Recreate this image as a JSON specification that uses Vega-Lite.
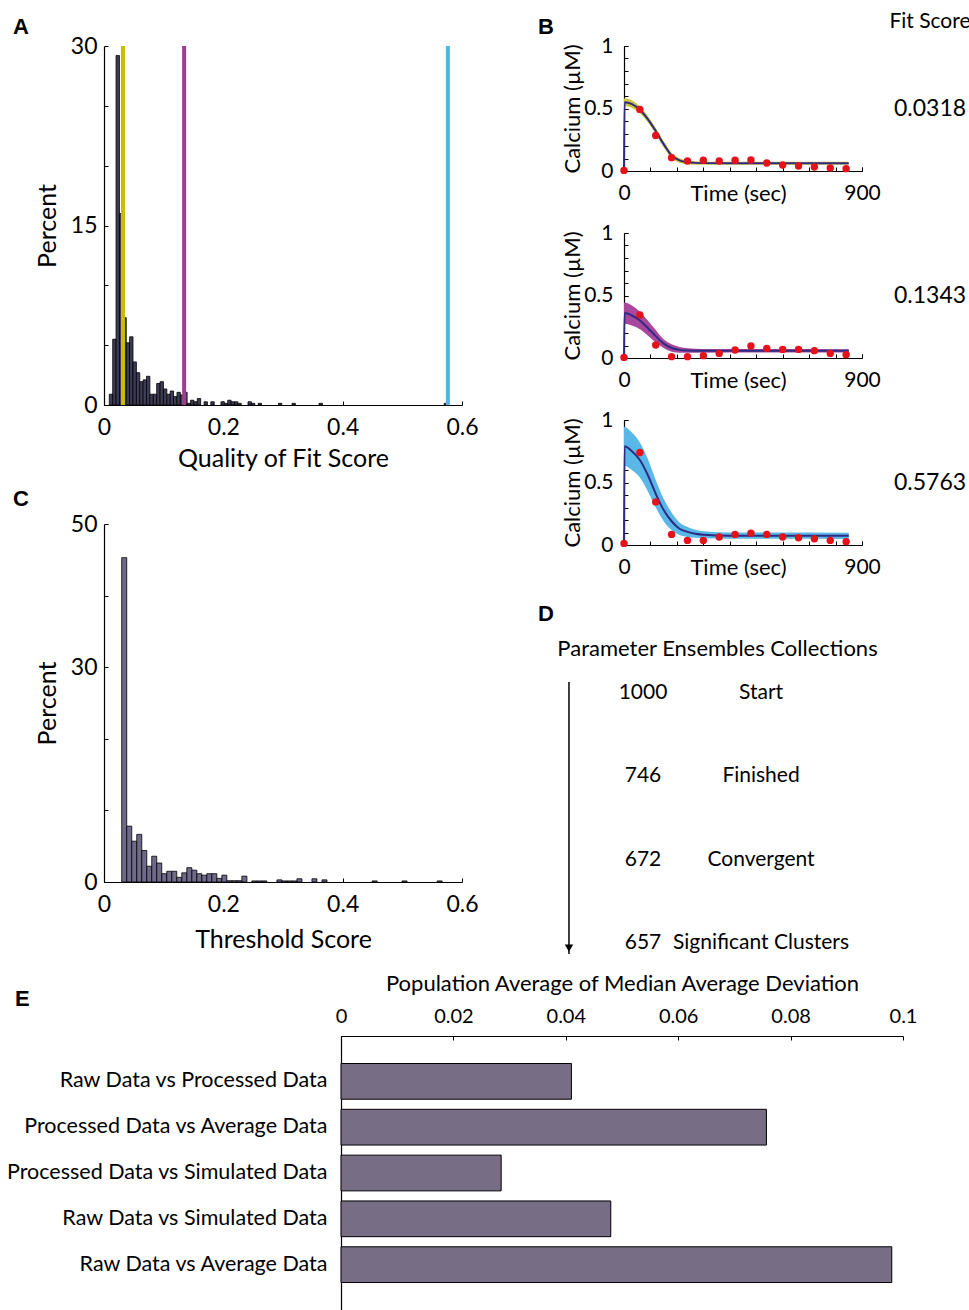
{
  "$schema": "https://vega.github.io/schema/vega-lite/v6.json",
  "padding": {"left": 4, "top": 11, "right": 0, "bottom": 0},
  "background": "white",
  "config": {
    "view": {"stroke": null},
    "font": "Lato",
    "title": {"font": "Liberation Sans", "fontSize": 22, "fontWeight": "bold", "color": "#000", "frame": "group"},
    "axis": {"labelFont": "Lato", "titleFont": "Lato", "labelFontSize": 23, "titleFontSize": 25, "titleFontWeight": "normal", "labelColor": "#000", "titleColor": "#000", "domainColor": "#000", "tickColor": "#000", "tickSize": -4, "labelPadding": 15, "grid": false, "domainWidth": 1.2, "tickWidth": 1, "labelFlush": false, "labelOverlap": false, "labelLimit": 500}
  },
  "datasets": {
    "histA": [
      {"lo": 0.0089, "hi": 0.0146, "pct": 0.9}, {"lo": 0.0146, "hi": 0.0202, "pct": 5.5}, {"lo": 0.0202, "hi": 0.0259, "pct": 29.2}, {"lo": 0.0259, "hi": 0.0316, "pct": 16.0}, {"lo": 0.0316, "hi": 0.0373, "pct": 7.3}, {"lo": 0.0373, "hi": 0.0429, "pct": 5.2}, {"lo": 0.0429, "hi": 0.0486, "pct": 5.7}, {"lo": 0.0486, "hi": 0.0543, "pct": 3.6}, {"lo": 0.0543, "hi": 0.0599, "pct": 2.7}, {"lo": 0.0599, "hi": 0.0656, "pct": 1.95}, {"lo": 0.0656, "hi": 0.0713, "pct": 2.1}, {"lo": 0.0713, "hi": 0.0769, "pct": 2.4}, {"lo": 0.0769, "hi": 0.0826, "pct": 0.9}, {"lo": 0.0826, "hi": 0.0883, "pct": 0.9}, {"lo": 0.0883, "hi": 0.094, "pct": 1.8}, {"lo": 0.094, "hi": 0.0996, "pct": 1.95}, {"lo": 0.0996, "hi": 0.1053, "pct": 1.34}, {"lo": 0.1053, "hi": 0.111, "pct": 0.9}, {"lo": 0.111, "hi": 0.1166, "pct": 1.17}, {"lo": 0.1166, "hi": 0.1223, "pct": 0.7}, {"lo": 0.1223, "hi": 0.128, "pct": 1.06}, {"lo": 0.128, "hi": 0.1336, "pct": 0.84}, {"lo": 0.1336, "hi": 0.1393, "pct": 1.06}, {"lo": 0.1393, "hi": 0.145, "pct": 0.14}, {"lo": 0.145, "hi": 0.1507, "pct": 0.4}, {"lo": 0.1507, "hi": 0.1563, "pct": 0.27}, {"lo": 0.1563, "hi": 0.162, "pct": 0.54}, {"lo": 0.1677, "hi": 0.1733, "pct": 0.27}, {"lo": 0.179, "hi": 0.1847, "pct": 0.27}, {"lo": 0.196, "hi": 0.2017, "pct": 0.27}, {"lo": 0.2017, "hi": 0.2073, "pct": 0.14}, {"lo": 0.2073, "hi": 0.213, "pct": 0.4}, {"lo": 0.213, "hi": 0.2187, "pct": 0.27}, {"lo": 0.2187, "hi": 0.2243, "pct": 0.27}, {"lo": 0.2243, "hi": 0.23, "pct": 0.14}, {"lo": 0.2413, "hi": 0.247, "pct": 0.27}, {"lo": 0.247, "hi": 0.2527, "pct": 0.14}, {"lo": 0.2584, "hi": 0.264, "pct": 0.14}, {"lo": 0.2924, "hi": 0.298, "pct": 0.14}, {"lo": 0.3151, "hi": 0.3207, "pct": 0.14}, {"lo": 0.3604, "hi": 0.3661, "pct": 0.14}, {"lo": 0.5702, "hi": 0.5759, "pct": 0.14}
    ],
    "histC": [
      {"lo": 0.0297, "hi": 0.0381, "pct": 45.3}, {"lo": 0.0381, "hi": 0.0465, "pct": 7.8}, {"lo": 0.0465, "hi": 0.0549, "pct": 5.7}, {"lo": 0.0549, "hi": 0.0633, "pct": 6.65}, {"lo": 0.0633, "hi": 0.0717, "pct": 4.4}, {"lo": 0.0717, "hi": 0.08, "pct": 2.2}, {"lo": 0.08, "hi": 0.0884, "pct": 3.6}, {"lo": 0.0884, "hi": 0.0968, "pct": 2.65}, {"lo": 0.0968, "hi": 0.1052, "pct": 1.16}, {"lo": 0.1052, "hi": 0.1136, "pct": 1.5}, {"lo": 0.1136, "hi": 0.122, "pct": 1.5}, {"lo": 0.122, "hi": 0.1304, "pct": 0.65}, {"lo": 0.1304, "hi": 0.1388, "pct": 1.28}, {"lo": 0.1388, "hi": 0.1472, "pct": 2.0}, {"lo": 0.1472, "hi": 0.1556, "pct": 1.65}, {"lo": 0.1556, "hi": 0.1639, "pct": 1.16}, {"lo": 0.1639, "hi": 0.1723, "pct": 0.95}, {"lo": 0.1723, "hi": 0.1807, "pct": 1.16}, {"lo": 0.1807, "hi": 0.1891, "pct": 1.16}, {"lo": 0.1891, "hi": 0.1975, "pct": 0.5}, {"lo": 0.1975, "hi": 0.2059, "pct": 0.95}, {"lo": 0.2059, "hi": 0.2143, "pct": 0.18}, {"lo": 0.2143, "hi": 0.2227, "pct": 0.18}, {"lo": 0.2227, "hi": 0.2311, "pct": 0.18}, {"lo": 0.2311, "hi": 0.2395, "pct": 0.82}, {"lo": 0.2478, "hi": 0.2562, "pct": 0.15}, {"lo": 0.2562, "hi": 0.2646, "pct": 0.15}, {"lo": 0.2646, "hi": 0.273, "pct": 0.15}, {"lo": 0.2898, "hi": 0.2982, "pct": 0.3}, {"lo": 0.2982, "hi": 0.3066, "pct": 0.15}, {"lo": 0.3066, "hi": 0.315, "pct": 0.15}, {"lo": 0.315, "hi": 0.3234, "pct": 0.15}, {"lo": 0.3234, "hi": 0.3318, "pct": 0.45}, {"lo": 0.3485, "hi": 0.3569, "pct": 0.45}, {"lo": 0.3653, "hi": 0.3737, "pct": 0.3}, {"lo": 0.4493, "hi": 0.4577, "pct": 0.15}, {"lo": 0.4995, "hi": 0.5079, "pct": 0.15}, {"lo": 0.5583, "hi": 0.5667, "pct": 0.15}
    ],
    "fitlines": [
      {"example": "Fit 1", "score": 0.0318}, {"example": "Fit 2", "score": 0.1343}, {"example": "Fit 3", "score": 0.5763}
    ],
    "fit1": [
      {"t": 0, "y": 0, "lo": 0.52, "hi": 0.58}, {"t": 2, "y": 0.55, "lo": 0.52, "hi": 0.58}, {"t": 30, "y": 0.535, "lo": 0.505, "hi": 0.565}, {"t": 60, "y": 0.49, "lo": 0.462, "hi": 0.518}, {"t": 90, "y": 0.415, "lo": 0.39, "hi": 0.44}, {"t": 120, "y": 0.32, "lo": 0.295, "hi": 0.345}, {"t": 150, "y": 0.215, "lo": 0.19, "hi": 0.24}, {"t": 180, "y": 0.125, "lo": 0.103, "hi": 0.147}, {"t": 210, "y": 0.085, "lo": 0.067, "hi": 0.103}, {"t": 240, "y": 0.07, "lo": 0.055, "hi": 0.085}, {"t": 270, "y": 0.065, "lo": 0.051, "hi": 0.079}, {"t": 300, "y": 0.063, "lo": 0.05, "hi": 0.076}, {"t": 400, "y": 0.062, "lo": 0.05, "hi": 0.074}, {"t": 600, "y": 0.062, "lo": 0.05, "hi": 0.074}, {"t": 850, "y": 0.062, "lo": 0.05, "hi": 0.074}
    ],
    "obs1": [
      {"t": 0, "v": 0.005}, {"t": 60, "v": 0.493}, {"t": 120, "v": 0.284}, {"t": 180, "v": 0.107}, {"t": 240, "v": 0.08}, {"t": 300, "v": 0.086}, {"t": 360, "v": 0.08}, {"t": 420, "v": 0.086}, {"t": 480, "v": 0.088}, {"t": 540, "v": 0.064}, {"t": 600, "v": 0.048}, {"t": 660, "v": 0.04}, {"t": 720, "v": 0.032}, {"t": 780, "v": 0.024}, {"t": 840, "v": 0.019}
    ],
    "fit2": [
      {"t": 0, "y": 0, "lo": 0.275, "hi": 0.445}, {"t": 2, "y": 0.36, "lo": 0.275, "hi": 0.445}, {"t": 30, "y": 0.34, "lo": 0.26, "hi": 0.42}, {"t": 60, "y": 0.3, "lo": 0.23, "hi": 0.37}, {"t": 90, "y": 0.24, "lo": 0.18, "hi": 0.3}, {"t": 120, "y": 0.175, "lo": 0.125, "hi": 0.225}, {"t": 150, "y": 0.115, "lo": 0.08, "hi": 0.15}, {"t": 180, "y": 0.08, "lo": 0.05, "hi": 0.11}, {"t": 210, "y": 0.065, "lo": 0.042, "hi": 0.088}, {"t": 240, "y": 0.06, "lo": 0.042, "hi": 0.078}, {"t": 300, "y": 0.058, "lo": 0.043, "hi": 0.073}, {"t": 500, "y": 0.058, "lo": 0.044, "hi": 0.072}, {"t": 850, "y": 0.058, "lo": 0.045, "hi": 0.071}
    ],
    "obs2": [
      {"t": 0, "v": 0.005}, {"t": 60, "v": 0.344}, {"t": 120, "v": 0.104}, {"t": 180, "v": 0.011}, {"t": 240, "v": 0.011}, {"t": 300, "v": 0.019}, {"t": 360, "v": 0.037}, {"t": 420, "v": 0.064}, {"t": 480, "v": 0.096}, {"t": 540, "v": 0.077}, {"t": 600, "v": 0.069}, {"t": 660, "v": 0.069}, {"t": 720, "v": 0.059}, {"t": 780, "v": 0.037}, {"t": 840, "v": 0.027}
    ],
    "fit3": [
      {"t": 0, "y": 0, "lo": 0.635, "hi": 0.945}, {"t": 2, "y": 0.79, "lo": 0.635, "hi": 0.945}, {"t": 30, "y": 0.75, "lo": 0.6, "hi": 0.9}, {"t": 60, "y": 0.68, "lo": 0.54, "hi": 0.82}, {"t": 90, "y": 0.56, "lo": 0.43, "hi": 0.69}, {"t": 120, "y": 0.41, "lo": 0.3, "hi": 0.52}, {"t": 150, "y": 0.28, "lo": 0.19, "hi": 0.37}, {"t": 180, "y": 0.19, "lo": 0.12, "hi": 0.26}, {"t": 210, "y": 0.13, "lo": 0.08, "hi": 0.18}, {"t": 240, "y": 0.105, "lo": 0.065, "hi": 0.145}, {"t": 270, "y": 0.09, "lo": 0.058, "hi": 0.122}, {"t": 300, "y": 0.082, "lo": 0.054, "hi": 0.11}, {"t": 400, "y": 0.075, "lo": 0.05, "hi": 0.1}, {"t": 850, "y": 0.074, "lo": 0.049, "hi": 0.099}
    ],
    "obs3": [
      {"t": 0, "v": 0.013}, {"t": 60, "v": 0.74}, {"t": 120, "v": 0.345}, {"t": 180, "v": 0.085}, {"t": 240, "v": 0.037}, {"t": 300, "v": 0.037}, {"t": 360, "v": 0.064}, {"t": 420, "v": 0.085}, {"t": 480, "v": 0.095}, {"t": 540, "v": 0.085}, {"t": 600, "v": 0.064}, {"t": 660, "v": 0.058}, {"t": 720, "v": 0.05}, {"t": 780, "v": 0.037}, {"t": 840, "v": 0.027}
    ],
    "stages": [
      {"stage": "Start", "n": 1000}, {"stage": "Finished", "n": 746}, {"stage": "Convergent", "n": 672}, {"stage": "Significant Clusters", "n": 657}
    ],
    "devs": [
      {"comparison": "Raw Data vs Processed Data", "mad": 0.041}, {"comparison": "Processed Data vs Average Data", "mad": 0.0757}, {"comparison": "Processed Data vs Simulated Data", "mad": 0.0285}, {"comparison": "Raw Data vs Simulated Data", "mad": 0.048}, {"comparison": "Raw Data vs Average Data", "mad": 0.098}
    ]
  },
  "vconcat": [
    {
      "hconcat": [
        {"width": 1, "height": 1, "data": {"values": []}, "mark": "point"},
        {
          "hconcat": [
            {
              "vconcat": [
                {
                  "width": 358, "height": 359,
                  "title": {"text": "A", "anchor": "start", "dx": -91, "offset": -4},
                  "layer": [
                    {
                      "data": {"name": "histA"},
                      "mark": {"type": "bar", "fill": "#3e3b56", "stroke": "#000", "strokeWidth": 0.8},
                      "encoding": {
                        "x": {"field": "lo", "type": "quantitative", "scale": {"domain": [0, 0.6], "nice": false, "zero": false}, "axis": {"values": [0, 0.2, 0.4, 0.6], "format": "~g", "title": "Quality of Fit Score", "titleY": 53, "titleBaseline": "middle"}},
                        "x2": {"field": "hi"},
                        "y": {"field": "pct", "type": "quantitative", "scale": {"domain": [0, 30], "nice": false}, "axis": {"values": [0, 5, 10, 15, 20, 25, 30], "labelExpr": "datum.value % 15 === 0 ? datum.label : ''", "title": "Percent", "titleX": -57, "titleBaseline": "middle", "labelPadding": 11}},
                        "y2": {"datum": 0}
                      }
                    },
                    {
                      "data": {"name": "fitlines"},
                      "mark": {"type": "rule", "strokeWidth": 4},
                      "encoding": {
                        "x": {"field": "score", "type": "quantitative"},
                        "color": {"field": "example", "type": "nominal", "scale": {"domain": ["Fit 1", "Fit 2", "Fit 3"], "range": ["#c9bd00", "#a23c91", "#4fb4e6"]}, "legend": null}
                      }
                    }
                  ]
                },
                {
                  "width": 358, "height": 358,
                  "title": {"text": "C", "anchor": "start", "dx": -91, "offset": 2},
                  "data": {"name": "histC"},
                  "mark": {"type": "bar", "fill": "#6f698a", "stroke": "#000", "strokeWidth": 0.8},
                  "encoding": {
                    "x": {"field": "lo", "type": "quantitative", "scale": {"domain": [0, 0.6], "nice": false, "zero": false}, "axis": {"values": [0, 0.2, 0.4, 0.6], "format": "~g", "title": "Threshold Score", "titleY": 57, "titleBaseline": "middle"}},
                    "x2": {"field": "hi"},
                    "y": {"field": "pct", "type": "quantitative", "scale": {"domain": [0, 50], "nice": false}, "axis": {"values": [0, 10, 20, 30, 40, 50], "labelExpr": "datum.value === 0 || datum.value === 30 || datum.value === 50 ? datum.label : ''", "title": "Percent", "titleX": -57, "titleBaseline": "middle", "labelPadding": 11}},
                    "y2": {"datum": 0}
                  }
                }
              ],
              "spacing": 17
            },
            {
              "vconcat": [
                {
                  "hconcat": [
                    {
                      "width": 1, "height": 1,
                      "data": {"values": []},
                      "mark": "point",
                      "title": {"text": "B", "anchor": "start", "dx": -11, "offset": 7}
                    },
                    {
                      "vconcat": [
                        {
                          "width": 238, "height": 125,
                          "resolve": {"axis": {"x": "independent", "y": "independent"}},
                          "layer": [
                            {
                              "data": {"name": "fit1"},
                              "mark": {"type": "area", "color": "#cbc43c", "interpolate": "monotone"},
                              "encoding": {
                                "x": {"field": "t", "type": "quantitative", "scale": {"domain": [0, 900], "nice": false}, "axis": {"values": [0, 100, 200, 300, 400, 500, 600, 700, 800, 900], "labels": false, "title": null}},
                                "y": {"field": "lo", "type": "quantitative", "scale": {"domain": [0, 1], "nice": false}, "axis": {"values": [0, 0.1, 0.2, 0.3, 0.4, 0.5, 0.6, 0.7, 0.8, 0.9, 1], "labels": false, "title": null}},
                                "y2": {"field": "hi"}
                              }
                            },
                            {
                              "data": {"name": "fit1"},
                              "mark": {"type": "line", "color": "#2e2b85", "strokeWidth": 2, "interpolate": "monotone"},
                              "encoding": {
                                "x": {"field": "t", "type": "quantitative", "axis": {"orient": "bottom", "values": [0, 900], "domain": false, "title": "Time (sec)", "titleX": 114, "titleY": 22, "titleBaseline": "middle", "labelFontSize": 21, "titleFontSize": 22}},
                                "y": {"field": "y", "type": "quantitative", "axis": {"orient": "left", "values": [0, 0.5, 1], "format": "~g", "domain": false, "title": "Calcium (µM)", "titleX": -52, "titleBaseline": "middle", "labelFontSize": 21, "titleFontSize": 22}}
                              }
                            },
                            {
                              "data": {"name": "obs1"},
                              "mark": {"type": "circle", "color": "#e5121b", "size": 55, "opacity": 1},
                              "encoding": {"x": {"field": "t", "type": "quantitative", "axis": null}, "y": {"field": "v", "type": "quantitative", "axis": null}}
                            }
                          ]
                        },
                        {
                          "width": 238, "height": 125,
                          "resolve": {"axis": {"x": "independent", "y": "independent"}},
                          "layer": [
                            {
                              "data": {"name": "fit2"},
                              "mark": {"type": "area", "color": "#a8479b", "interpolate": "monotone"},
                              "encoding": {
                                "x": {"field": "t", "type": "quantitative", "scale": {"domain": [0, 900], "nice": false}, "axis": {"values": [0, 100, 200, 300, 400, 500, 600, 700, 800, 900], "labels": false, "title": null}},
                                "y": {"field": "lo", "type": "quantitative", "scale": {"domain": [0, 1], "nice": false}, "axis": {"values": [0, 0.1, 0.2, 0.3, 0.4, 0.5, 0.6, 0.7, 0.8, 0.9, 1], "labels": false, "title": null}},
                                "y2": {"field": "hi"}
                              }
                            },
                            {
                              "data": {"name": "fit2"},
                              "mark": {"type": "line", "color": "#2e2b85", "strokeWidth": 2, "interpolate": "monotone"},
                              "encoding": {
                                "x": {"field": "t", "type": "quantitative", "axis": {"orient": "bottom", "values": [0, 900], "domain": false, "title": "Time (sec)", "titleX": 114, "titleY": 22, "titleBaseline": "middle", "labelFontSize": 21, "titleFontSize": 22}},
                                "y": {"field": "y", "type": "quantitative", "axis": {"orient": "left", "values": [0, 0.5, 1], "format": "~g", "domain": false, "title": "Calcium (µM)", "titleX": -52, "titleBaseline": "middle", "labelFontSize": 21, "titleFontSize": 22}}
                              }
                            },
                            {
                              "data": {"name": "obs2"},
                              "mark": {"type": "circle", "color": "#e5121b", "size": 55, "opacity": 1},
                              "encoding": {"x": {"field": "t", "type": "quantitative", "axis": null}, "y": {"field": "v", "type": "quantitative", "axis": null}}
                            }
                          ]
                        },
                        {
                          "width": 238, "height": 125,
                          "resolve": {"axis": {"x": "independent", "y": "independent"}},
                          "layer": [
                            {
                              "data": {"name": "fit3"},
                              "mark": {"type": "area", "color": "#5ab8e8", "interpolate": "monotone"},
                              "encoding": {
                                "x": {"field": "t", "type": "quantitative", "scale": {"domain": [0, 900], "nice": false}, "axis": {"values": [0, 100, 200, 300, 400, 500, 600, 700, 800, 900], "labels": false, "title": null}},
                                "y": {"field": "lo", "type": "quantitative", "scale": {"domain": [0, 1], "nice": false}, "axis": {"values": [0, 0.1, 0.2, 0.3, 0.4, 0.5, 0.6, 0.7, 0.8, 0.9, 1], "labels": false, "title": null}},
                                "y2": {"field": "hi"}
                              }
                            },
                            {
                              "data": {"name": "fit3"},
                              "mark": {"type": "line", "color": "#2e2b85", "strokeWidth": 2, "interpolate": "monotone"},
                              "encoding": {
                                "x": {"field": "t", "type": "quantitative", "axis": {"orient": "bottom", "values": [0, 900], "domain": false, "title": "Time (sec)", "titleX": 114, "titleY": 22, "titleBaseline": "middle", "labelFontSize": 21, "titleFontSize": 22}},
                                "y": {"field": "y", "type": "quantitative", "axis": {"orient": "left", "values": [0, 0.5, 1], "format": "~g", "domain": false, "title": "Calcium (µM)", "titleX": -52, "titleBaseline": "middle", "labelFontSize": 21, "titleFontSize": 22}}
                              }
                            },
                            {
                              "data": {"name": "obs3"},
                              "mark": {"type": "circle", "color": "#e5121b", "size": 55, "opacity": 1},
                              "encoding": {"x": {"field": "t", "type": "quantitative", "axis": null}, "y": {"field": "v", "type": "quantitative", "axis": null}}
                            }
                          ]
                        }
                      ],
                      "spacing": 18
                    },
                    {
                      "vconcat": [
                        {
                          "width": 86, "height": 125,
                          "title": {"text": "Fit Score", "anchor": "middle", "offset": 14, "font": "Lato", "fontSize": 21, "fontWeight": "normal"},
                          "data": {"values": [{"score": 0.0318}]},
                          "mark": {"type": "text", "font": "Lato", "fontSize": 23, "color": "#000"},
                          "encoding": {"text": {"field": "score", "type": "quantitative", "format": ".4f"}}
                        },
                        {
                          "width": 86, "height": 125,
                          "data": {"values": [{"score": 0.1343}]},
                          "mark": {"type": "text", "font": "Lato", "fontSize": 23, "color": "#000"},
                          "encoding": {"text": {"field": "score", "type": "quantitative", "format": ".4f"}}
                        },
                        {
                          "width": 86, "height": 125,
                          "data": {"values": [{"score": 0.5763}]},
                          "mark": {"type": "text", "font": "Lato", "fontSize": 23, "color": "#000"},
                          "encoding": {"text": {"field": "score", "type": "quantitative", "format": ".4f"}}
                        }
                      ],
                      "spacing": 62
                    }
                  ],
                  "spacing": 6
                },
                {
                  "width": 232, "height": 272,
                  "title": {"text": "D", "anchor": "start", "dx": -11, "offset": 11},
                  "data": {"name": "stages"},
                  "layer": [
                    {
                      "data": {"values": [{"item": "arrow"}]},
                      "mark": {"type": "rule", "color": "#000", "strokeWidth": 1.5},
                      "encoding": {
                        "x": {"field": "item", "type": "nominal", "scale": {"type": "point", "domain": ["arrow", "count", "stage"], "padding": 0.208}, "axis": {"orient": "top", "title": "Parameter Ensembles Collections", "domain": false, "ticks": false, "labels": false, "titleX": 168, "titleY": -34, "titleBaseline": "middle", "titleFontSize": 22}}
                      }
                    },
                    {
                      "data": {"values": [{"item": "arrow", "stage": "Significant Clusters"}]},
                      "mark": {"type": "point", "shape": "triangle-down", "filled": true, "color": "#000", "size": 70, "yOffset": 5, "opacity": 1},
                      "encoding": {
                        "x": {"field": "item", "type": "nominal"},
                        "y": {"field": "stage", "type": "nominal", "scale": {"type": "point", "domain": ["Start", "Finished", "Convergent", "Significant Clusters"], "padding": 0.13}, "axis": null}
                      }
                    },
                    {
                      "mark": {"type": "text", "font": "Lato", "fontSize": 21, "dx": -22, "color": "#000"},
                      "encoding": {
                        "x": {"datum": "count", "type": "nominal"},
                        "y": {"field": "stage", "type": "nominal"},
                        "text": {"field": "n", "type": "quantitative"}
                      }
                    },
                    {
                      "mark": {"type": "text", "font": "Lato", "fontSize": 21, "color": "#000"},
                      "encoding": {
                        "x": {"datum": "stage", "type": "nominal"},
                        "y": {"field": "stage", "type": "nominal"},
                        "text": {"field": "stage", "type": "nominal"}
                      }
                    }
                  ]
                }
              ],
              "spacing": 25
            }
          ],
          "spacing": 59
        }
      ],
      "spacing": 8
    },
    {
      "hconcat": [
        {"width": 1, "height": 1, "data": {"values": []}, "mark": "point"},
        {
          "width": 562, "height": 274,
          "title": {"text": "E", "anchor": "start", "dx": -326, "offset": -39},
          "data": {"name": "devs"},
          "mark": {"type": "bar", "fill": "#776e85", "stroke": "#000", "strokeWidth": 1},
          "encoding": {
            "x": {"field": "mad", "type": "quantitative", "scale": {"domain": [0, 0.1], "nice": false}, "axis": {"orient": "top", "values": [0, 0.02, 0.04, 0.06, 0.08, 0.1], "format": "~g", "title": "Population Average of Median Average Deviation", "labelPadding": 14, "titleY": -53, "titleBaseline": "middle", "labelFontSize": 20, "titleFontSize": 22}},
            "y": {"field": "comparison", "type": "nominal", "sort": null, "scale": {"paddingInner": 0.22, "paddingOuter": 0.6}, "axis": {"title": null, "ticks": false, "labelPadding": 14, "labelFontSize": 21.5}}
          }
        }
      ],
      "spacing": 0
    }
  ],
  "spacing": 17
}
